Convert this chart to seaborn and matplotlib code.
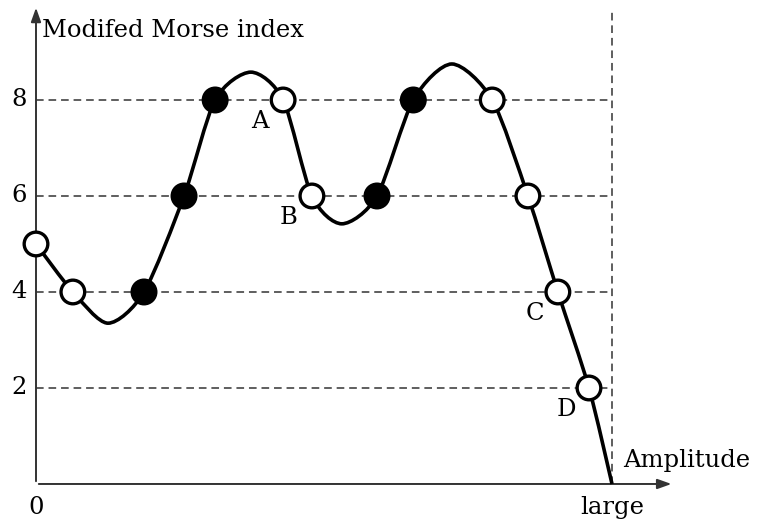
import numpy as np
import pandas as pd
import seaborn as sns
import matplotlib.pyplot as plt
from matplotlib.path import Path
from matplotlib.patches import PathPatch

sns.set_theme(style="white")
plt.rcParams["font.family"] = ["DejaVu Serif"]
plt.rcParams["text.color"] = "black"

# Amplitude axis runs from 0 to "large" (= 10 in arbitrary units)
AMP_MAX = 10.0
y_levels = [2, 4, 6, 8]
y_ticklabels = ["2", "4", "6", "8"]

# Knots of the schematic index curve (amplitude, modified Morse index)
curve_amp = [0.0, 0.64, 1.25, 1.875, 2.57, 3.11, 3.73, 4.29, 4.79, 5.31,
             5.92, 6.55, 7.22, 7.92, 8.54, 9.06, 9.60, 10.0]
curve_idx = [5.0, 4.0, 3.35, 4.0, 6.0, 8.0, 8.58, 8.0, 6.0, 5.42,
             6.0, 8.0, 8.75, 8.0, 6.0, 4.0, 2.0, 0.0]

# Bifurcation points on the curve
pt_amp = [0.0, 0.64, 1.875, 2.57, 3.11, 4.29, 4.79, 5.92, 6.55, 7.92, 8.54, 9.06, 9.60]
pt_idx = [5, 4, 4, 6, 8, 8, 6, 6, 8, 8, 6, 4, 2]
pt_kind = ["open", "open", "filled", "filled", "filled", "open", "open",
           "filled", "filled", "open", "open", "open", "open"]

# Labelled points
lab_text = ["A", "B", "C", "D"]
lab_amp = [4.29, 4.79, 9.06, 9.60]
lab_idx = [8, 6, 4, 2]

points = pd.DataFrame({"amp": pt_amp, "idx": pt_idx, "kind": pt_kind})

fig = plt.figure(figsize=(7.57, 5.22), dpi=100)
ax = fig.add_axes([0, 0, 1, 1])
ax.set_xlim(-0.625, 12.517)
ax.set_ylim(-0.792, 10.083)
ax.axis("off")

dash_kw = dict(color="#333333", lw=1.1, dashes=(5, 3.2), zorder=1)
for lv in y_levels:
    ax.plot([0, AMP_MAX], [lv, lv], **dash_kw)
ax.plot([AMP_MAX, AMP_MAX], [0, 9.88], **dash_kw)

# Axes with arrow heads
arrow_kw = dict(arrowstyle="-|>,head_length=0.7,head_width=0.25", color="#333333", lw=1.4)
ax.annotate("", xy=(11.08, 0), xytext=(0, 0), arrowprops=arrow_kw, zorder=2)
ax.annotate("", xy=(0, 9.98), xytext=(0, 0), arrowprops=arrow_kw, zorder=2)

# Smooth curve through knots (cardinal spline as cubic Bezier segments)
TENSION = 1 / 7.5
P = np.column_stack([curve_amp, curve_idx])
verts = [tuple(P[0])]
codes = [Path.MOVETO]
n = len(P)
for i in range(n - 1):
    p0 = P[i - 1] if i > 0 else P[i]
    p1, p2 = P[i], P[i + 1]
    p3 = P[i + 2] if i + 2 < n else P[i + 1]
    c1 = p1 + (p2 - p0) * TENSION
    c2 = p2 - (p3 - p1) * TENSION
    verts += [tuple(c1), tuple(c2), tuple(p2)]
    codes += [Path.CURVE4] * 3
ax.add_patch(PathPatch(Path(verts, codes), fill=False, lw=2.6,
                       edgecolor="black", capstyle="butt", zorder=3))

# Bifurcation markers
sns.scatterplot(data=points, x="amp", y="idx", hue="kind",
                palette={"open": "white", "filled": "black"},
                s=290, edgecolor="black", linewidth=2.4, legend=False,
                ax=ax, zorder=4)

fs = 17.5
for t, a, v in zip(lab_text, lab_amp, lab_idx):
    ax.text(a - 0.4, v - 0.44, t, fontsize=fs, ha="center", va="center")

for lv, lab in zip(y_levels, y_ticklabels):
    ax.text(-0.16, lv, lab, fontsize=fs, ha="right", va="center")
ax.text(0, -0.5, "0", fontsize=fs, ha="center", va="center")
ax.text(AMP_MAX, -0.5, "large", fontsize=fs, ha="center", va="center")
ax.text(10.2, 0.48, "Amplitude", fontsize=fs, ha="left", va="center")
ax.text(0.1, 9.45, "Modifed Morse index", fontsize=fs, ha="left", va="center")

fig.savefig("out.png", dpi=100)
